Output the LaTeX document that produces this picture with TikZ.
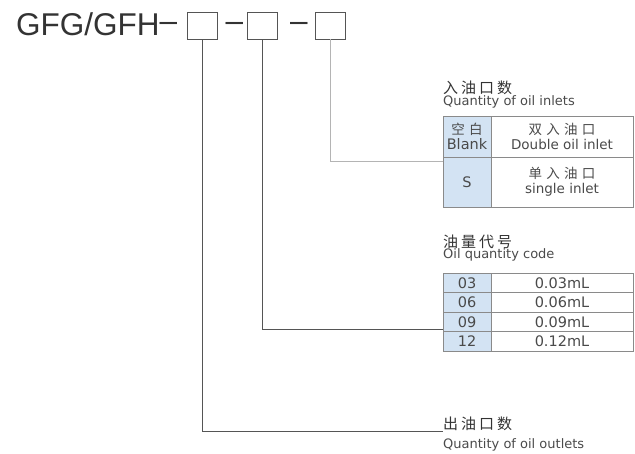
\documentclass[tikz,border=0pt]{standalone}
\usepackage{fontspec}
\setmainfont{DejaVu Sans}
\newfontfamily\titlefont{Liberation Sans}
\newfontfamily\cjk[LetterSpace=20]{Noto Sans CJK SC}
\newfontfamily\cjkcell[LetterSpace=32]{Noto Sans CJK SC}
\usetikzlibrary{positioning,calc}
\definecolor{ocInk}{HTML}{4A4A4A}
\definecolor{ocDark}{HTML}{333333}
\definecolor{ocLine}{HTML}{8A8A8A}
\definecolor{ocLead}{HTML}{555555}
\definecolor{ocPale}{HTML}{B4B4B4}
\definecolor{ocKey}{HTML}{D3E3F3}
\newcommand{\cnsmall}{\cjkcell\fontsize{13.5}{15}\selectfont}
\newcommand{\ensmall}{\fontsize{13.5}{15}\selectfont}
\tikzset{
  cell/.style={
    draw=ocLine, line width=0.9pt, inner sep=0pt, outer sep=0pt,
    align=center, text=ocInk, font={\fontsize{14.5}{15}\selectfont},
    anchor=north west
  },
  keycell/.style={cell, fill=ocKey, minimum width=48pt},
  valcell/.style={cell, fill=white, minimum width=142pt},
  rowcell/.style={minimum height=19.5pt},
  codebox/.style={draw=ocLead, line width=0.8pt, minimum width=30pt, minimum height=27pt, inner sep=0pt},
  dashtext/.style={font={\titlefont\fontsize{31.5}{32}\selectfont}, text=ocDark, anchor=base, inner sep=0pt},
  hdrcn/.style={font={\cjk\fontsize{15}{15}\selectfont}, text=ocDark, anchor=base west, inner sep=0pt},
  hdren/.style={font={\fontsize{13}{14}\selectfont}, text=ocInk, anchor=base west, inner sep=0pt},
  lead/.style={draw=ocLead, line width=0.8pt},
  palelead/.style={lead, draw=ocPale, line width=1pt}
}
\begin{document}
\begin{tikzpicture}[x=1pt, y=-1pt]
  \useasboundingbox (0,0) rectangle (635,454);

  % model code
  \node[anchor=base west, inner sep=0pt, text=ocDark, font={\titlefont\fontsize{31.5}{32}\selectfont}] (model) at (16,36) {GFG/GFH\raisebox{4pt}{–}};
  \node[codebox] (b1) at (202,25.5) {};
  \node[dashtext] (d1) at (234.5,32) {–};
  \node[codebox] (b2) at (262.5,25.5) {};
  \node[dashtext] (d2) at (299,32) {–};
  \node[codebox] (b3) at (330,25.5) {};

  % oil inlets
  \node[hdrcn] (inHeadCn) at (443,94) {入油口数};
  \node[hdren] (inHeadEn) at (443,106) {Quantity of oil inlets};
  \node[keycell, minimum height=41pt] (inBlank) at (443,116) {{\cnsmall 空白}\\Blank};
  \node[valcell, minimum height=41pt, right=0pt of inBlank] (inDouble) {{\cnsmall 双入油口}\\{\ensmall Double oil inlet}};
  \node[keycell, minimum height=50pt, below=0pt of inBlank] (inS) {S};
  \node[valcell, minimum height=50pt, right=0pt of inS] (inSingle) {{\cnsmall 单入油口}\\{\ensmall single inlet}};

  % oil quantity
  \node[hdrcn] (qtyHeadCn) at (443,248) {油量代号};
  \node[hdren] (qtyHeadEn) at (443,259) {Oil quantity code};
  \node[keycell, rowcell] (q03) at (443,273) {03};
  \node[valcell, rowcell, right=0pt of q03] (v03) {0.03mL};
  \node[keycell, rowcell, below=0pt of q03] (q06) {06};
  \node[valcell, rowcell, right=0pt of q06] (v06) {0.06mL};
  \node[keycell, rowcell, below=0pt of q06] (q09) {09};
  \node[valcell, rowcell, right=0pt of q09] (v09) {0.09mL};
  \node[keycell, rowcell, below=0pt of q09] (q12) {12};
  \node[valcell, rowcell, right=0pt of q12] (v12) {0.12mL};

  % oil outlets
  \node[hdrcn] (outHeadCn) at (443,429) {出油口数};
  \node[hdren] (outHeadEn) at (443,449) {Quantity of oil outlets};
  \coordinate (outEnd) at (443,431);

  % leaders
  \draw[lead] (b1.south) |- (outEnd);
  \draw[lead] (b2.south) |- ([yshift=2pt]q09.south west);
  \draw[palelead] (b3.south) |- ([yshift=-5pt]inS.north west);
\end{tikzpicture}
\end{document}
